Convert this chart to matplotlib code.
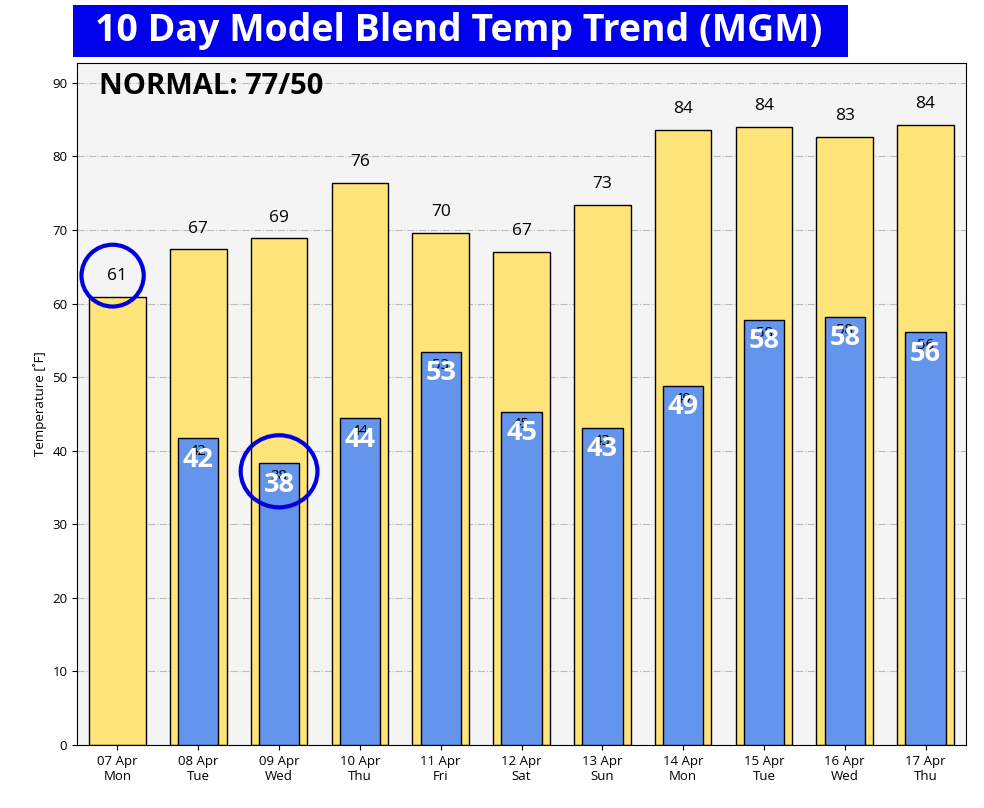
import numpy as np
import matplotlib.pyplot as plt
from matplotlib.patches import Ellipse, Rectangle

plt.rcParams['font.family'] = ['Open Sans', 'DejaVu Sans']

days = ["07 Apr\nMon", "08 Apr\nTue", "09 Apr\nWed", "10 Apr\nThu", "11 Apr\nFri",
        "12 Apr\nSat", "13 Apr\nSun", "14 Apr\nMon", "15 Apr\nTue", "16 Apr\nWed",
        "17 Apr\nThu"]
highs = [60.9, 67.4, 68.9, 76.4, 69.6, 67.0, 73.4, 83.6, 84.0, 82.7, 84.3]
lows = [np.nan, 41.7, 38.3, 44.4, 53.4, 45.3, 43.1, 48.8, 57.8, 58.2, 56.1]
normal = "77/50"

fig = plt.figure(figsize=(9.84, 8.08), dpi=100)
ax = fig.add_axes([0.0783, 0.078, 0.9034, 0.844])
ax.set_facecolor("#f4f4f4")

x = np.arange(len(days))
ax.bar(x, highs, width=0.7, color="#ffe47a", edgecolor="black", linewidth=1, zorder=2)
ax.bar(x, lows, width=0.5, color="#6495ed", edgecolor="black", linewidth=1, zorder=3)

for i in range(len(days)):
    ax.text(x[i], highs[i] + 2.8, f"{round(highs[i])}", ha="center", va="center",
            fontsize=12.5, color="black", zorder=5)
    if not np.isnan(lows[i]):
        ax.text(x[i], lows[i] - 1.8, f"{round(lows[i])}", ha="center", va="center",
                fontsize=10.5, color="black", zorder=5)
        ax.text(x[i], lows[i] - 2.9, f"{round(lows[i])}", ha="center", va="center",
                fontsize=19.5, fontweight="bold", color="white", zorder=6)

# circles around the first high and the lowest low
ax.add_patch(Ellipse((x[0] - 0.06, highs[0] + 2.9), 0.77, 8.4, fill=False,
                     edgecolor="#0000dd", linewidth=3, zorder=7))
ax.add_patch(Ellipse((x[2], lows[2] - 1.1), 0.95, 9.8, fill=False,
                     edgecolor="#0000dd", linewidth=3, zorder=7))

ax.set_xlim(-0.5, 10.5)
ax.set_ylim(0, 92.7)
ax.set_yticks(range(0, 91, 10))
ax.set_xticks(x)
ax.set_xticklabels(days, fontsize=9.5)
ax.tick_params(axis="y", labelsize=9.5)
ax.set_ylabel("Temperature [˚F]", fontsize=9.5)
ax.grid(axis="y", linestyle="-.", color="#bbbbbb", linewidth=0.8, zorder=0)
ax.set_axisbelow(True)

ax.text(0.025, 0.965, "NORMAL: " + normal, transform=ax.transAxes, ha="left", va="center",
        fontsize=21, fontweight="bold", color="black", zorder=8)

# title banner
fig.patches.append(Rectangle((0.0742, 0.9295), 0.7876, 0.0644, transform=fig.transFigure,
                             facecolor="#0000ee", edgecolor="none"))
fig.text(0.0965, 0.9616, "10 Day Model Blend Temp Trend (MGM)", ha="left", va="center",
         fontsize=27, fontweight="bold", color="white")

fig.savefig("out.png", dpi=100)
